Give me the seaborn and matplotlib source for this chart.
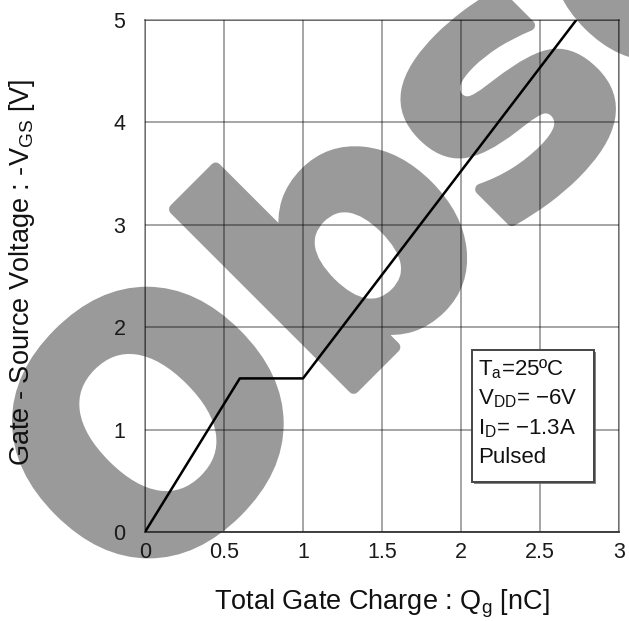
import matplotlib
matplotlib.use("Agg")
import matplotlib.pyplot as plt
import matplotlib.patheffects as pe
from matplotlib.patches import Rectangle
import seaborn as sns
import pandas as pd

# gate charge curve
charge_nc = [0.0, 0.6, 1.0, 2.73]
vgs_v = [0.0, 1.5, 1.5, 5.0]

x_ticks = [0, 0.5, 1, 1.5, 2, 2.5, 3]
x_tick_labels = ["0", "0.5", "1", "1.5", "2", "2.5", "3"]
y_ticks = [0, 1, 2, 3, 4, 5]
y_tick_labels = ["0", "1", "2", "3", "4", "5"]

conditions = ["T$_a$=25ºC", "V$_{DD}$= \u22126V", "I$_D$= \u22121.3A", "Pulsed"]


def main():
    sns.set_style("white")
    plt.rcParams["font.family"] = ["Liberation Sans", "DejaVu Sans"]
    plt.rcParams["mathtext.default"] = "regular"

    df = pd.DataFrame({"Qg": charge_nc, "VGS": vgs_v})

    fig = plt.figure(figsize=(6.29, 6.21), dpi=100)
    ax = fig.add_axes([0.2305, 0.1433, 0.7535, 0.8245])
    ax.set_facecolor("none")
    fig.patch.set_facecolor("white")

    # watermark behind the axes
    fig.text(0.2122, 0.0201, "Obsolete", rotation=45, rotation_mode="anchor",
             ha="left", va="baseline", fontsize=240, fontweight="bold",
             family="DejaVu Sans", color="#9a9a9a", zorder=-1,
             path_effects=[pe.withStroke(linewidth=8, foreground="#9a9a9a")])

    sns.lineplot(data=df, x="Qg", y="VGS", color="black", linewidth=1.8,
                 sort=False, ax=ax, zorder=5)

    ax.set_xlim(0, 3)
    ax.set_ylim(0, 5)
    ax.set_xticks(x_ticks)
    ax.set_xticklabels(x_tick_labels)
    ax.set_yticks(y_ticks)
    ax.set_yticklabels(y_tick_labels)
    ax.tick_params(axis="both", length=0, labelsize=15.5, colors="#1a1a1a")
    ax.tick_params(axis="x", pad=7)
    ax.tick_params(axis="y", pad=14)

    ax.grid(True, color="black", alpha=0.45, linewidth=1.1)
    for side in ["top", "right", "left"]:
        ax.spines[side].set_color((0, 0, 0, 0.45))
        ax.spines[side].set_linewidth(1.1)
    ax.spines["bottom"].set_color("#333333")
    ax.spines["bottom"].set_linewidth(1.3)

    ax.set_xlabel("Total Gate Charge : Q$_g$ [nC]", fontsize=19.5, color="#111111")
    ax.set_ylabel("Gate - Source Voltage : -V$_{GS}$ [V]", fontsize=19.5, color="#111111")
    ax.xaxis.set_label_coords(0.5, -0.108)
    ax.yaxis.set_label_coords(-0.228, 0.508)

    # condition box
    ax.add_patch(Rectangle((2.07, 0.49), 0.77, 1.29, facecolor="white",
                           edgecolor="#444444", linewidth=1.4, zorder=6,
                           path_effects=[pe.SimplePatchShadow(offset=(1.5, -1.5), shadow_rgbFace="#666666", alpha=0.8),
                                         pe.Normal()]))
    ax.text(2.11, 1.71, "\n".join(conditions), fontsize=16, color="#111111",
            ha="left", va="top", linespacing=1.42, zorder=7)

    fig.savefig("out.png", dpi=100)


if __name__ == "__main__":
    main()
